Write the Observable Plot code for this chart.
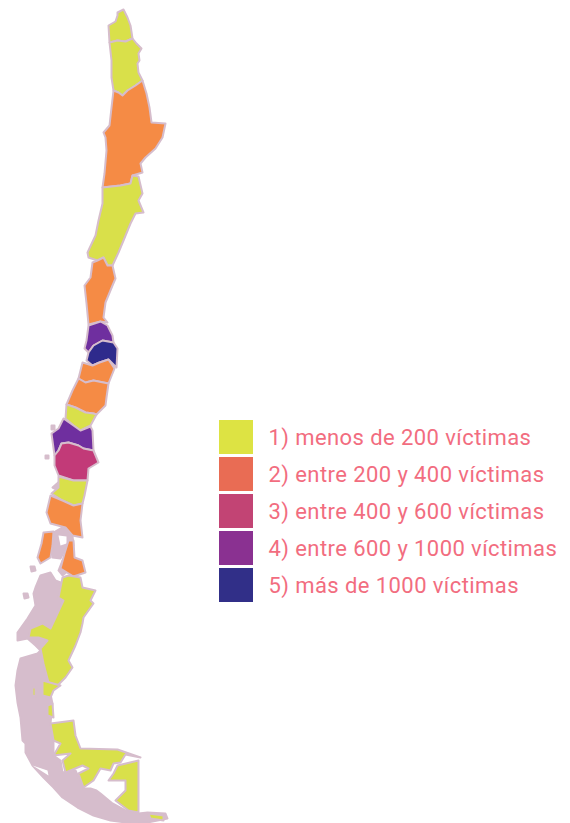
<!DOCTYPE html>
<html><head><meta charset="utf-8">
<script src="https://cdn.jsdelivr.net/npm/d3@7"></script>
<script src="https://cdn.jsdelivr.net/npm/@observablehq/plot@0.6"></script>
<style>
html,body{margin:0;padding:0;background:#fff;}
#stage{position:relative;width:570px;height:823px;overflow:hidden;}
#map{position:absolute;left:0;top:0;filter:blur(.6px);}
#legend{position:absolute;left:219px;top:420px;}
#legend text{letter-spacing:.42px;}
</style></head><body>
<div id="stage"><div id="map"></div><div id="legend"></div></div>
<script>
// Legend
const legendLabels = ["1) menos de 200 víctimas","2) entre 200 y 400 víctimas","3) entre 400 y 600 víctimas","4) entre 600 y 1000 víctimas","5) más de 1000 víctimas"];
const legendColors = ["#dde343","#e96c54","#c24474","#8a3191","#312f88"];
const mapClasses = ["c1","c2","c3","c4","c5","islas","hueco"];
const mapColors = ["#d9e04a","#f58b45","#c23a78","#6f2f9f","#2e2a8c","#d6bdcc","#ffffff"];

// Region outlines
const aricaParinacota=[[117,12],[123,9],[127,17],[130,25],[132,38],[125,41],[117,40],[109,42],[108,25],[115,21],[117,15]];
const tarapaca=[[109,42],[117,40],[125,41],[132,38],[136,43],[141,48],[138,53],[139,60],[137,63],[138,72],[142,80],[135,85],[127,90],[122,95],[118,92],[113,90],[111,77],[111,60]];
const antofagasta=[[113,90],[118,92],[122,95],[127,90],[135,85],[142,80],[146,93],[149,107],[151,122],[165,123],[162,137],[155,148],[145,157],[140,163],[142,172],[132,175],[130,183],[120,185],[102,187],[104,173],[106,150],[105,137],[103,132],[109,125],[111,107]];
const atacama=[[102,187],[120,185],[130,183],[132,175],[138,176],[142,193],[138,200],[143,212],[135,213],[130,223],[123,240],[118,252],[112,265],[107,265],[103,257],[97,260],[88,257],[87,252],[95,235],[98,220],[102,203]];
const coquimbo=[[92,262],[97,260],[103,257],[107,265],[112,265],[115,278],[112,285],[105,302],[103,317],[107,322],[100,321],[88,324],[86,303],[84,285],[90,277]];
const valparaiso=[[88,325],[100,321],[107,325],[112,335],[113,342],[102,340],[93,345],[88,352],[84,348],[86,340]];
const santiago=[[93,345],[102,340],[113,342],[117,348],[116,367],[108,359],[99,362],[92,365],[86,360],[88,352]];
const ohiggins=[[82,362],[92,365],[99,362],[108,359],[114,368],[108,383],[93,380],[85,382],[78,378]];
const maule=[[78,378],[85,382],[93,380],[108,383],[106,397],[105,405],[96,414],[93,413],[85,412],[75,407],[66,404],[72,390]];
const nuble=[[66,404],[75,407],[85,412],[93,413],[96,414],[90,425],[80,430],[73,425],[65,418]];
const biobio=[[63,418],[73,425],[80,430],[90,426],[92,430],[93,450],[83,448],[78,445],[68,442],[61,443],[58,450],[54,455],[51,433],[58,428]];
const araucania=[[61,443],[68,442],[78,445],[83,448],[93,450],[98,462],[88,468],[87,480],[73,480],[58,475],[54,465],[54,455],[58,450]];
const losRios=[[58,476],[73,480],[87,480],[84,495],[82,503],[73,505],[62,500],[51,493],[58,487]];
const losLagos=[[50,495],[62,500],[73,505],[82,503],[80,520],[82,537],[72,535],[65,527],[50,523],[46,512]];
const chiloe=[[43,532],[53,531],[52,545],[50,557],[40,563],[37,557],[41,543]];
const palena=[[68,540],[73,540],[74,557],[82,560],[85,572],[73,576],[60,568],[64,553]];
const aysen=[[62,577],[68,575],[80,577],[82,587],[95,590],[90,600],[93,603],[83,617],[82,623],[80,632],[75,645],[68,660],[72,667],[65,677],[57,685],[48,682],[43,663],[40,648],[47,640],[38,637],[28,637],[30,628],[42,623],[50,628],[57,613],[63,600],[58,597]];
const magallanesA=[[42,680],[60,685],[53,690],[50,697],[42,695]];
const magallanesB=[[47,705],[52,703],[53,717],[47,715]];
const magallanesC=[[50,723],[58,722],[73,720],[75,735],[80,748],[117,749],[140,757],[125,754],[120,762],[113,763],[110,770],[100,768],[93,780],[83,787],[78,773],[88,768],[82,765],[65,772],[62,760],[70,753],[53,755],[60,743],[53,740]];
const tierraDelFuego=[[117,765],[138,760],[138,812],[128,810],[115,800],[125,790],[125,780],[108,780],[113,773]];
const navarino=[[148,813],[163,815],[163,820],[150,818]];
const yellowPatch=[[32,687],[35,687],[35,696],[32,695]];
// Southern islands
const islasSur=[[40,575],[35,587],[33,593],[35,605],[27,618],[17,632],[17,640],[27,638],[35,645],[40,650],[37,653],[20,658],[17,670],[15,685],[17,702],[20,717],[22,740],[25,743],[25,752],[32,765],[43,777],[53,787],[62,797],[77,807],[93,815],[110,820],[133,823],[147,822],[167,818],[165,813],[147,812],[138,813],[125,810],[112,803],[100,793],[96,790],[90,788],[83,788],[75,770],[62,772],[60,760],[53,755],[53,740],[50,723],[52,703],[48,685],[50,660],[50,640],[58,620],[62,600],[60,582],[55,580],[50,572]];
const islasChiloe=[[53,532],[65,525],[72,535],[73,545],[65,548],[60,558],[52,557]];
const isletaA=[[51,425],[54,425],[54,429],[51,429]];
const isletaB=[[45,455],[48,455],[48,458],[45,458]];
const isletaC=[[30,566],[34,566],[35,570],[31,571]];
const isletaD=[[23,593],[27,593],[28,597],[24,598]];
const isletaE=[[52,487],[60,480],[58,490]];
const isletaF=[[62,575],[68,570],[62,560],[58,570]];
// Channels
const canalChiloe=[[58,535],[66,536],[66,543],[60,545]];
const canalSur=[[32,765],[47,770],[48,775],[37,768]];
const canalPeq=[[82,778],[90,770],[92,772],[85,781]];
const estrechoMagallanes=[[98,788],[102,770],[108,767],[105,778],[113,782],[125,780],[110,787],[103,788],[115,798],[107,795]];

const regions=[
 ["Arica y Parinacota","c1",aricaParinacota],["Tarapacá","c1",tarapaca],["Antofagasta","c2",antofagasta],
 ["Atacama","c1",atacama],["Coquimbo","c2",coquimbo],["Valparaíso","c4",valparaiso],["Santiago","c5",santiago],
 ["O'Higgins","c2",ohiggins],["Maule","c2",maule],["Ñuble","c1",nuble],["Biobío","c4",biobio],["Araucanía","c3",araucania],
 ["Los Ríos","c1",losRios],["Los Lagos","c2",losLagos],["Chiloé","c2",chiloe],["Palena","c2",palena],
 ["Aysén","c1",aysen],["Magallanes A","c1",magallanesA],["Magallanes B","c1",magallanesB],["Magallanes C","c1",magallanesC],
 ["Tierra del Fuego","c1",tierraDelFuego],["Navarino","c1",navarino],["Parche","c1",yellowPatch]
];
const islands=[["Islas sur","islas",islasSur],["Islas Chiloé","islas",islasChiloe],["a","islas",isletaA],["b","islas",isletaB],["c","islas",isletaC],["d","islas",isletaD],["e","islas",isletaE],["f","islas",isletaF]];
const channels=[["Canal Chiloé","hueco",canalChiloe],["Canal sur","hueco",canalSur],["Canal pequeño","hueco",canalPeq],["Estrecho","hueco",estrechoMagallanes]];

const rows=list=>list.flatMap(([name,cls,pts])=>pts.map(([x,y])=>({name,cls,x,y})));
const layer=(list,stroke)=>Plot.line(rows(list),{x:"x",y:"y",z:"name",fill:"cls",stroke,strokeWidth:2,curve:"linear-closed",strokeLinejoin:"round"});

document.getElementById("map").append(Plot.plot({
  width:570,height:823,margin:0,
  x:{domain:[0,570],range:[0,570],axis:null},
  y:{domain:[0,823],range:[0,823],axis:null},
  color:{type:"ordinal",domain:mapClasses,range:mapColors},
  style:{background:"transparent"},
  marks:[layer(islands,"#d6bdcc"),layer(channels,"none"),layer(regions,"#d6bdcc")]
}));

document.getElementById("legend").append(Plot.plot({
  width:351,height:182,marginTop:0,marginBottom:0,marginLeft:0,marginRight:317,
  x:{domain:[0,1],axis:null},
  y:{type:"band",domain:legendLabels,paddingInner:3/37,paddingOuter:0,axis:null},
  color:{type:"ordinal",domain:legendLabels,range:legendColors},
  style:{background:"transparent",overflow:"visible"},
  marks:[
    Plot.barX(legendLabels,{x1:()=>0,x2:()=>1,y:d=>d,fill:d=>d}),
    Plot.text(legendLabels,{y:d=>d,frameAnchor:"left",dx:49,dy:0,textAnchor:"start",text:d=>d,fill:"#f26d7f",fontSize:22,fontFamily:"Roboto"})
  ]
}));
</script></body></html>
